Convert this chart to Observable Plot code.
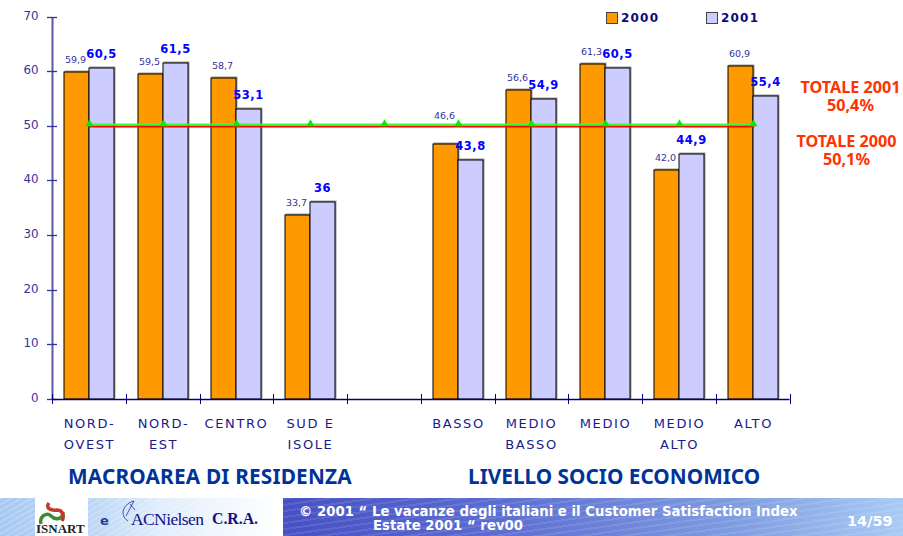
<!DOCTYPE html>
<html><head><meta charset="utf-8">
<script src="https://cdn.jsdelivr.net/npm/d3@7"></script>
<script src="https://cdn.jsdelivr.net/npm/@observablehq/plot@0.6"></script>
<style>
html,body{margin:0;padding:0;background:#fff;overflow:hidden}
#wrap{position:relative;width:903px;height:536px;overflow:hidden}
#wrap > svg{position:absolute;left:0;top:0}
.t{position:absolute;white-space:pre;line-height:1}
.c{transform:translateX(-50%);text-align:center}
.sec{font:bold 20.8px "Noto Sans";color:#003399;top:462px}
.tot{font:bold 16.2px "Noto Sans";color:#ff3300;line-height:18px}
.leg{font:bold 12px "DejaVu Sans";letter-spacing:1.2px;color:#0b0b7a;top:11px}
.sw{position:absolute;top:12px;width:10px;height:10px;border:1px solid #444}
#foot{position:absolute;left:0;top:498px;width:903px;height:38px}
#fl{position:absolute;left:0;top:0;width:283px;height:38px;background:repeating-linear-gradient(150deg,rgba(255,255,255,.18) 0 2px,rgba(255,255,255,0) 2px 5px),linear-gradient(90deg,#a6c9f2 0,#bcd6f5 90px,#e0edfb 160px,#fff 280px)}
#fr{position:absolute;left:283px;top:0;width:620px;height:38px;background:repeating-linear-gradient(172deg,rgba(255,255,255,.10) 0 2px,rgba(255,255,255,0) 2px 6px),linear-gradient(90deg,#4750c4 0,#5a6ad0 200px,#7e9ce0 450px,#a9cbf5 620px)}
#logo{position:absolute;left:35px;top:0;width:53px;height:38px;background:#fff}
.f{color:#fff;font:bold 13.3px "DejaVu Sans"}
</style></head><body><div id="wrap"></div>
<script>
const categories = ["NORD-\nOVEST","NORD-\nEST","CENTRO","SUD E\nISOLE","","BASSO","MEDIO\nBASSO","MEDIO","MEDIO\nALTO","ALTO"];
const values2000 = [59.9,59.5,58.7,33.7,null,46.6,56.6,61.3,42.0,60.9];
const values2001 = [60.5,61.5,53.1,36,null,43.8,54.9,60.5,44.9,55.4];
const labels2000 = ["59,9","59,5","58,7","33,7","","46,6","56,6","61,3","42,0","60,9"];
const labels2001 = ["60,5","61,5","53,1","36","","43,8","54,9","60,5","44,9","55,4"];
const labelAnchor2000 = [59.9,59.5,58.7,33.7,null,49.6,56.6,61.3,42.0,60.9];
const total2000Line = 49.9;
const total2001Line = 50.3;
const yTicks = [0,10,20,30,40,50,60,70];
const bandEdges = [0,1,2,3,4,5,6,7,8,9,10];

const idx = categories.map((_,i)=>i);
const has = idx.filter(i=>values2000[i]!=null);
const barW = 0.339;
const mid = i=>i+0.5;

const shadow = (vals,a,b)=>Plot.rectY(has,{x1:i=>mid(i)+a,x2:i=>mid(i)+b,y1:0,y2:i=>vals[i],fill:"#999999",stroke:"#999999",strokeWidth:1,dx:1,dy:-1});
const bars = (vals,a,b,fill)=>Plot.rectY(has,{x1:i=>mid(i)+a,x2:i=>mid(i)+b,y1:0,y2:i=>vals[i],fill,stroke:"#000",strokeWidth:1});

const plot = Plot.plot({
  width:903,height:536,
  marginLeft:52,marginRight:113.5,marginTop:16.5,marginBottom:137,
  style:{background:"transparent",overflow:"visible"},
  x:{type:"linear",domain:[0,10],axis:null,round:true},
  y:{domain:[0,70],axis:null,round:true},
  marks:[
    shadow(values2000,-barW,0),shadow(values2001,0,barW),
    bars(values2000,-barW,0,"#ff9900"),bars(values2001,0,barW,"#ccccff"),
    // y axis
    Plot.ruleX([0],{y1:0,y2:70,stroke:"#5a5aa8",strokeWidth:2}),
    Plot.ruleY(yTicks,{x1:0,x2:0,stroke:"#33339a",strokeWidth:1.3,insetLeft:-5,insetRight:-5}),
    Plot.text(yTicks,{x:0,y:d=>d,text:d=>String(d),dx:-14,dy:-1,textAnchor:"end",fill:"#333399",fontSize:11.8,fontFamily:"DejaVu Sans"}),
    // x axis
    Plot.ruleY([0],{stroke:"#000080",strokeWidth:1.3}),
    Plot.ruleX(bandEdges,{y1:0,y2:0,stroke:"#000080",strokeWidth:1,insetTop:-5,insetBottom:-5}),
    Plot.text(idx,{x:mid,y:0,text:i=>categories[i],dy:14,lineAnchor:"top",lineHeight:1.6,fill:"#1a1a8c",fontSize:13,fontFamily:"DejaVu Sans"}),
    // totals
    Plot.line(idx,{x:mid,y:()=>total2000Line,stroke:"#ff0000",strokeWidth:2}),
    Plot.line(idx,{x:mid,y:()=>total2001Line,stroke:"#33ff33",strokeWidth:1.8}),
    Plot.dot(idx,{x:mid,y:()=>total2001Line,symbol:"triangle",r:3,fill:"#00ee00",dy:-0.5}),
    // value labels
    Plot.text(has,{x:mid,y:i=>labelAnchor2000[i],text:i=>labels2000[i],dx:-barW*36.875-1.5,dy:-13,fill:"#333399",fontSize:9.5,fontFamily:"DejaVu Sans"}),
    Plot.text(has,{x:mid,y:i=>values2001[i],text:i=>labels2001[i],dx:12,dy:-14.5,fill:"#0000ff",fontSize:11.5,fontWeight:"bold",fontFamily:"DejaVu Sans"})
  ]
});
const wrap = document.getElementById("wrap");
wrap.appendChild(plot);
// letter spacing on text groups
plot.querySelectorAll('g[aria-label="text"]').forEach((g,i)=>{
  if(i===1) g.style.letterSpacing="1.6px";
  if(i===3) g.style.letterSpacing="0.5px";
});
function add(cls,txt,css,parent){const d=document.createElement("div");d.className=cls;d.textContent=txt;Object.assign(d.style,css||{});(parent||wrap).appendChild(d);return d;}
add("sw","",{left:"606px",background:"#ff9900"});
add("t leg","2000",{left:"621px"});
add("sw","",{left:"706px",background:"#ccccff"});
add("t leg","2001",{left:"721px"});
add("t tot c","TOTALE 2001\n50,4%",{left:"850.5px",top:"78px"});
add("t tot c","TOTALE 2000\n50,1%",{left:"846.5px",top:"132px"});
add("t sec","MACROAREA DI RESIDENZA",{left:"68px",letterSpacing:"0.18px"});
add("t sec","LIVELLO SOCIO ECONOMICO",{left:"468px"});
const foot=document.createElement("div");foot.id="foot";wrap.appendChild(foot);
foot.innerHTML='<div id="fl"></div><div id="fr"></div><div id="logo"><svg width="53" height="38" style="position:absolute;left:0;top:0"><path d="M6 26 C4 18 12 14 16 18 C20 22 28 22 28 14" fill="none" stroke="#3a8a3a" stroke-width="3.5"/><path d="M14 5 C10 10 16 13 22 12 C27 12 30 17 27 23" fill="none" stroke="#c8352b" stroke-width="3.5"/></svg></div><svg width="20" height="38" style="position:absolute;left:120px;top:0"><path d="M14 3 C3 6 -1 17 8 23 M14 3 L6 18 M10 6 L15 12" fill="none" stroke="#2a2a9a" stroke-width="0.8"/></svg>';
add("t","ISNART",{left:"36px",top:"24px",font:'bold 13px "Liberation Serif"',color:"#222",lineHeight:"13px"},foot);
add("t","e",{left:"100px",top:"15px",font:'bold 13px "DejaVu Sans"',color:"#1f3f9f"},foot);
add("t","ACNielsen",{left:"131px",top:"11px",font:'17.5px "Liberation Serif"',letterSpacing:"-0.6px",color:"#10108a"},foot);
add("t","C.R.A.",{left:"212px",top:"12px",font:'bold 15.8px "Liberation Serif"',color:"#10108a"},foot);
add("t f","© 2001 “ Le vacanze degli italiani e il Customer Satisfaction Index",{left:"299px",top:"6px"},foot);
add("t f","Estate 2001 “ rev00",{left:"373px",top:"20px"},foot);
add("t f","14/59",{left:"847px",top:"15px",fontSize:"14.5px"},foot);
</script></body></html>
